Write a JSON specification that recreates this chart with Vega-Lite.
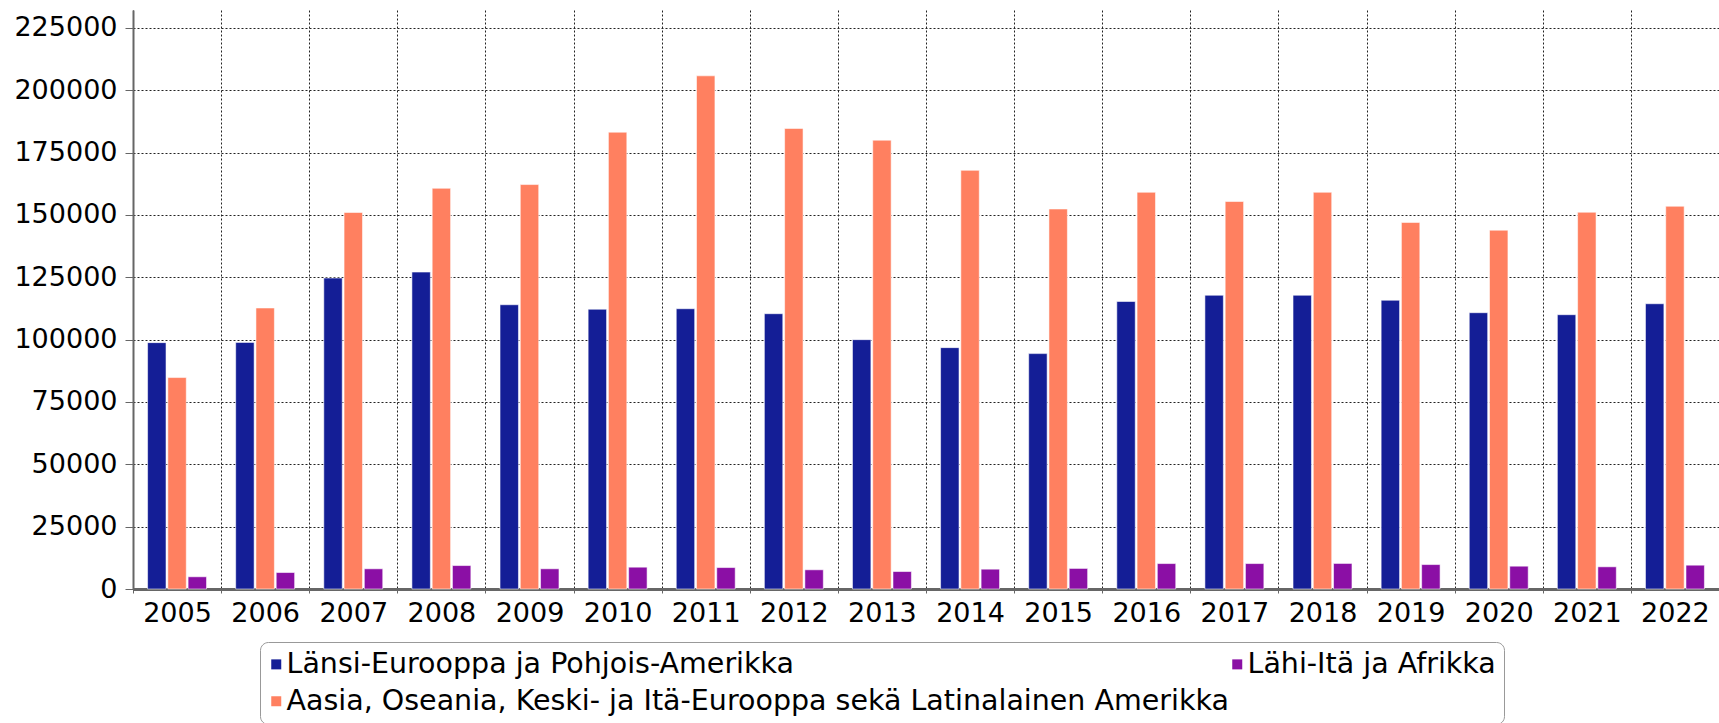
{
  "$schema": "https://vega.github.io/schema/vega-lite/v6.json",
  "width": 1586,
  "height": 579,
  "autosize": {"type": "none"},
  "padding": {"left": 133, "top": 10, "right": 0, "bottom": 134},
  "background": "white",
  "config": {
    "view": {"stroke": null},
    "font": "DejaVu Sans"
  },
  "data": {
    "values": [
      {"vuosi": "2005", "alue": "Länsi-Eurooppa ja Pohjois-Amerikka", "arvo": 98800},
      {"vuosi": "2006", "alue": "Länsi-Eurooppa ja Pohjois-Amerikka", "arvo": 98900},
      {"vuosi": "2007", "alue": "Länsi-Eurooppa ja Pohjois-Amerikka", "arvo": 124700},
      {"vuosi": "2008", "alue": "Länsi-Eurooppa ja Pohjois-Amerikka", "arvo": 127100},
      {"vuosi": "2009", "alue": "Länsi-Eurooppa ja Pohjois-Amerikka", "arvo": 114000},
      {"vuosi": "2010", "alue": "Länsi-Eurooppa ja Pohjois-Amerikka", "arvo": 112200},
      {"vuosi": "2011", "alue": "Länsi-Eurooppa ja Pohjois-Amerikka", "arvo": 112400},
      {"vuosi": "2012", "alue": "Länsi-Eurooppa ja Pohjois-Amerikka", "arvo": 110400},
      {"vuosi": "2013", "alue": "Länsi-Eurooppa ja Pohjois-Amerikka", "arvo": 100000},
      {"vuosi": "2014", "alue": "Länsi-Eurooppa ja Pohjois-Amerikka", "arvo": 96800},
      {"vuosi": "2015", "alue": "Länsi-Eurooppa ja Pohjois-Amerikka", "arvo": 94400},
      {"vuosi": "2016", "alue": "Länsi-Eurooppa ja Pohjois-Amerikka", "arvo": 115300},
      {"vuosi": "2017", "alue": "Länsi-Eurooppa ja Pohjois-Amerikka", "arvo": 117800},
      {"vuosi": "2018", "alue": "Länsi-Eurooppa ja Pohjois-Amerikka", "arvo": 117800},
      {"vuosi": "2019", "alue": "Länsi-Eurooppa ja Pohjois-Amerikka", "arvo": 115800},
      {"vuosi": "2020", "alue": "Länsi-Eurooppa ja Pohjois-Amerikka", "arvo": 110800},
      {"vuosi": "2021", "alue": "Länsi-Eurooppa ja Pohjois-Amerikka", "arvo": 110000},
      {"vuosi": "2022", "alue": "Länsi-Eurooppa ja Pohjois-Amerikka", "arvo": 114400},
      {"vuosi": "2005", "alue": "Aasia, Oseania, Keski- ja Itä-Eurooppa sekä Latinalainen Amerikka", "arvo": 84800},
      {"vuosi": "2006", "alue": "Aasia, Oseania, Keski- ja Itä-Eurooppa sekä Latinalainen Amerikka", "arvo": 112700},
      {"vuosi": "2007", "alue": "Aasia, Oseania, Keski- ja Itä-Eurooppa sekä Latinalainen Amerikka", "arvo": 151000},
      {"vuosi": "2008", "alue": "Aasia, Oseania, Keski- ja Itä-Eurooppa sekä Latinalainen Amerikka", "arvo": 160700},
      {"vuosi": "2009", "alue": "Aasia, Oseania, Keski- ja Itä-Eurooppa sekä Latinalainen Amerikka", "arvo": 162200},
      {"vuosi": "2010", "alue": "Aasia, Oseania, Keski- ja Itä-Eurooppa sekä Latinalainen Amerikka", "arvo": 183200},
      {"vuosi": "2011", "alue": "Aasia, Oseania, Keski- ja Itä-Eurooppa sekä Latinalainen Amerikka", "arvo": 205800},
      {"vuosi": "2012", "alue": "Aasia, Oseania, Keski- ja Itä-Eurooppa sekä Latinalainen Amerikka", "arvo": 184700},
      {"vuosi": "2013", "alue": "Aasia, Oseania, Keski- ja Itä-Eurooppa sekä Latinalainen Amerikka", "arvo": 180000},
      {"vuosi": "2014", "alue": "Aasia, Oseania, Keski- ja Itä-Eurooppa sekä Latinalainen Amerikka", "arvo": 167900},
      {"vuosi": "2015", "alue": "Aasia, Oseania, Keski- ja Itä-Eurooppa sekä Latinalainen Amerikka", "arvo": 152400},
      {"vuosi": "2016", "alue": "Aasia, Oseania, Keski- ja Itä-Eurooppa sekä Latinalainen Amerikka", "arvo": 159100},
      {"vuosi": "2017", "alue": "Aasia, Oseania, Keski- ja Itä-Eurooppa sekä Latinalainen Amerikka", "arvo": 155400},
      {"vuosi": "2018", "alue": "Aasia, Oseania, Keski- ja Itä-Eurooppa sekä Latinalainen Amerikka", "arvo": 159100},
      {"vuosi": "2019", "alue": "Aasia, Oseania, Keski- ja Itä-Eurooppa sekä Latinalainen Amerikka", "arvo": 147000},
      {"vuosi": "2020", "alue": "Aasia, Oseania, Keski- ja Itä-Eurooppa sekä Latinalainen Amerikka", "arvo": 143900},
      {"vuosi": "2021", "alue": "Aasia, Oseania, Keski- ja Itä-Eurooppa sekä Latinalainen Amerikka", "arvo": 151100},
      {"vuosi": "2022", "alue": "Aasia, Oseania, Keski- ja Itä-Eurooppa sekä Latinalainen Amerikka", "arvo": 153500},
      {"vuosi": "2005", "alue": "Lähi-Itä ja Afrikka", "arvo": 4900},
      {"vuosi": "2006", "alue": "Lähi-Itä ja Afrikka", "arvo": 6600},
      {"vuosi": "2007", "alue": "Lähi-Itä ja Afrikka", "arvo": 8100},
      {"vuosi": "2008", "alue": "Lähi-Itä ja Afrikka", "arvo": 9400},
      {"vuosi": "2009", "alue": "Lähi-Itä ja Afrikka", "arvo": 8100},
      {"vuosi": "2010", "alue": "Lähi-Itä ja Afrikka", "arvo": 8750},
      {"vuosi": "2011", "alue": "Lähi-Itä ja Afrikka", "arvo": 8600},
      {"vuosi": "2012", "alue": "Lähi-Itä ja Afrikka", "arvo": 7700},
      {"vuosi": "2013", "alue": "Lähi-Itä ja Afrikka", "arvo": 7000},
      {"vuosi": "2014", "alue": "Lähi-Itä ja Afrikka", "arvo": 7950},
      {"vuosi": "2015", "alue": "Lähi-Itä ja Afrikka", "arvo": 8250},
      {"vuosi": "2016", "alue": "Lähi-Itä ja Afrikka", "arvo": 10200},
      {"vuosi": "2017", "alue": "Lähi-Itä ja Afrikka", "arvo": 10200},
      {"vuosi": "2018", "alue": "Lähi-Itä ja Afrikka", "arvo": 10250},
      {"vuosi": "2019", "alue": "Lähi-Itä ja Afrikka", "arvo": 9800},
      {"vuosi": "2020", "alue": "Lähi-Itä ja Afrikka", "arvo": 9150},
      {"vuosi": "2021", "alue": "Lähi-Itä ja Afrikka", "arvo": 8900},
      {"vuosi": "2022", "alue": "Lähi-Itä ja Afrikka", "arvo": 9550}
    ]
  },
  "mark": {"type": "bar", "stroke": "white", "strokeOpacity": 0.55, "strokeWidth": 1},
  "encoding": {
    "x": {
      "field": "vuosi",
      "type": "nominal",
      "scale": {"paddingInner": 0, "paddingOuter": 0},
      "axis": {
        "title": null,
        "labelAngle": 0,
        "labelFont": "DejaVu Sans",
        "labelFontSize": 27,
        "labelColor": "black",
        "labelPadding": 7,
        "tickBand": "extent",
        "tickSize": 4,
        "tickColor": "#666",
        "tickWidth": 1,
        "domainColor": "#666",
        "domainWidth": 3,
        "grid": true,
        "gridColor": "#222",
        "gridDash": [2, 2],
        "gridWidth": 1
      }
    },
    "xOffset": {
      "field": "alue",
      "type": "nominal",
      "sort": ["Länsi-Eurooppa ja Pohjois-Amerikka", "Aasia, Oseania, Keski- ja Itä-Eurooppa sekä Latinalainen Amerikka", "Lähi-Itä ja Afrikka"],
      "scale": {"paddingInner": 0.09, "paddingOuter": 0.72}
    },
    "y": {
      "field": "arvo",
      "type": "quantitative",
      "scale": {"domain": [0, 232200], "nice": false},
      "axis": {
        "title": null,
        "values": [0, 25000, 50000, 75000, 100000, 125000, 150000, 175000, 200000, 225000],
        "format": "d",
        "labelFont": "DejaVu Sans",
        "labelFontSize": 27,
        "labelColor": "black",
        "labelPadding": 8,
        "tickSize": 8,
        "tickColor": "#666",
        "domainColor": "#666",
        "domainWidth": 2,
        "grid": true,
        "gridColor": "#222",
        "gridDash": [2, 2],
        "gridWidth": 1
      }
    },
    "color": {
      "field": "alue",
      "type": "nominal",
      "scale": {
        "domain": ["Länsi-Eurooppa ja Pohjois-Amerikka", "Aasia, Oseania, Keski- ja Itä-Eurooppa sekä Latinalainen Amerikka", "Lähi-Itä ja Afrikka"],
        "range": ["#141E96", "#FF8060", "#8B0FA5"]
      },
      "legend": {
        "title": null,
        "orient": "none",
        "legendX": 127,
        "legendY": 632,
        "columns": 2,
        "columnPadding": 0,
        "rowPadding": 8,
        "padding": 8,
        "strokeColor": "#999",
        "fillColor": "white",
        "cornerRadius": 8,
        "symbolType": "square",
        "symbolSize": 100,
        "symbolOffset": -6,
        "symbolStrokeWidth": 0,
        "labelFont": "DejaVu Sans",
        "labelFontSize": 28.5,
        "labelColor": "black",
        "labelOffset": -4,
        "labelLimit": 1200
      }
    }
  }
}
